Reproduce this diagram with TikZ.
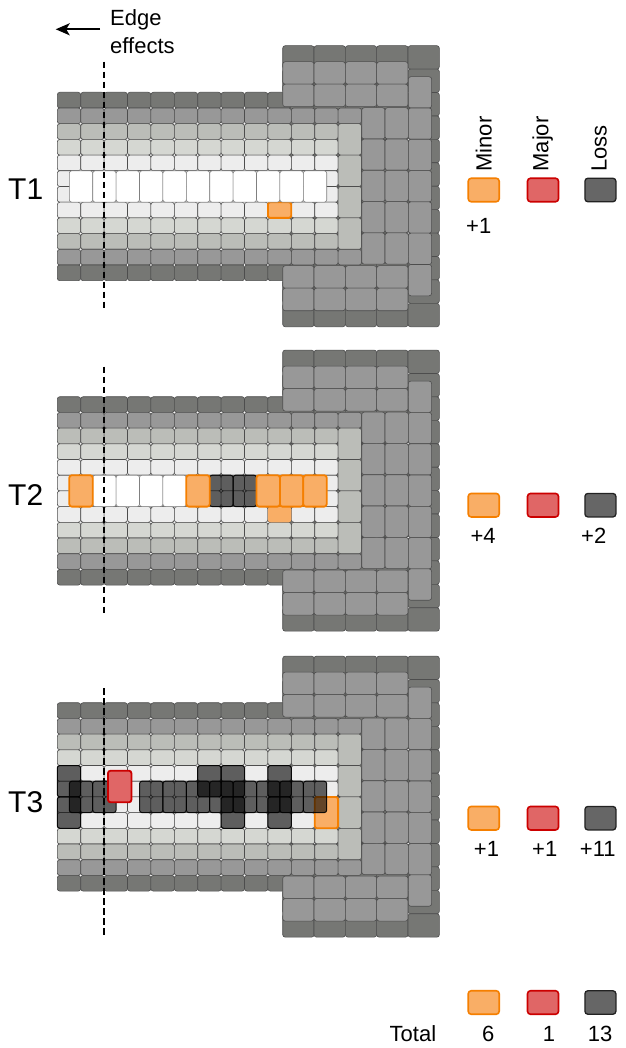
\documentclass[tikz,border=0pt]{standalone}
\usepackage{fontspec}
\setmainfont{Liberation Sans}
\usetikzlibrary{arrows.meta}

\definecolor{cdark}{HTML}{767774}
\definecolor{cmed}{HTML}{989898}
\definecolor{clone}{HTML}{BBBDB8}
\definecolor{cltwo}{HTML}{D5D7D2}
\definecolor{clthree}{HTML}{EDEDED}
\definecolor{cedge}{HTML}{4D4D4D}
\definecolor{ofill}{HTML}{F9AE66}
\definecolor{oline}{HTML}{F57F00}
\definecolor{rfill}{HTML}{E06666}
\definecolor{rline}{HTML}{CC0000}
\definecolor{lfill}{HTML}{666666}
\definecolor{lline}{HTML}{222222}

\tikzset{
 gcell/.style={draw=cedge, line width=0.6pt, rounded corners=2.5pt},
 minorc/.style={draw=oline, fill=ofill, line width=1.8pt, rounded corners=2.5pt},
 majorc/.style={draw=rline, fill=rfill, line width=1.8pt, rounded corners=2.5pt},
 lossc/.style={draw=black, fill=black, fill opacity=0.6, draw opacity=0.9, line width=1pt, rounded corners=2.5pt},
 whitec/.style={draw=black!50, fill=white, line width=0.6pt, rounded corners=2.5pt},
 lbl/.style={font=\fontsize{22}{26}\selectfont, inner sep=0pt},
 tlbl/.style={font=\fontsize{30}{36}\selectfont, inner sep=0pt, anchor=base west},
 swatch/.style={minimum width=31pt, minimum height=23.5pt, inner sep=0pt, rounded corners=3pt, line width=1.6pt},
 swminor/.style={swatch, draw=oline, fill=ofill},
 swmajor/.style={swatch, draw=rline, fill=rfill},
 swloss/.style={swatch, draw=lline, fill=lfill, line width=1.3pt},
 dashline/.style={draw=black, line width=1.8pt, dash pattern=on 6.5pt off 3.5pt},
}

\newcommand\basegrid{%
 \foreach \i in {0,...,4}{\foreach \j in {0,...,11}{
   \path[gcell,fill=cdark] ({282.7+31.33*\i},{45.7+23.42*\j}) rectangle ++(31.33,23.42);}}
 \foreach \j/\cc/\nn in {0/cdark/9,1/cmed/12,2/clone/11,3/cltwo/11,4/clthree/11,5/clthree/11,6/clthree/11,7/clthree/11,8/cltwo/11,9/clone/11,10/cmed/12,11/cdark/9}{
   \foreach \i in {0,...,\nn}{
     \path[gcell,fill=\cc] ({57.3+23.4*\i},{92.3+15.7*\j}) rectangle ++(23.4,15.7);}}
 \foreach \j in {0,...,3}{\path[gcell,fill=clone] (338.1,{123.7+31.4*\j}) rectangle ++(23.4,31.4);}
 \foreach \i in {0,...,3}{\foreach \j in {0,1}{
   \path[gcell,fill=cmed] ({282.7+31.33*\i},{61.7+22.5*\j}) rectangle ++(31.33,22.5);
   \path[gcell,fill=cmed] ({282.7+31.33*\i},{265.7+22.5*\j}) rectangle ++(31.33,22.5);}}
 \foreach \i in {0,1}{\foreach \j in {0,...,4}{
   \path[gcell,fill=cmed] ({361.7+23.33*\i},{107.7+31.3*\j}) rectangle ++(23.33,31.3);}}
 \foreach \j in {0,...,6}{\path[gcell,fill=cmed] (408.3,{76.7+31.3*\j}) rectangle ++(23.33,31.3);}
}

\begin{document}
\begin{tikzpicture}[x=1pt,y=-1pt]
\useasboundingbox (0,0) rectangle (625,1048);
\fill[white] (0,0) rectangle (625,1048);

% ---------- panel T1 ----------
\basegrid
\path[minorc] (267.9,202.2) rectangle ++(23.4,15.7);
\foreach \i in {0,...,10}{\path[whitec] ({69.3+23.4*\i},170.8) rectangle ++(23.4,31.4);}

% ---------- panel T2 ----------
\begin{scope}[shift={(0,304.4)}]
\basegrid
\path[fill=ofill, rounded corners=2.5pt] (267.9,202.2) rectangle ++(23.4,15.7);
\foreach \i in {1,2,3,4}{\path[whitec] ({69.3+23.4*\i},170.8) rectangle ++(23.4,31.4);}
\foreach \i in {6,7}{\path[lossc] ({69.3+23.4*\i},170.8) rectangle ++(23.4,31.4);}
\foreach \i in {0,5,8,9,10}{\path[minorc] ({69.3+23.4*\i},170.8) rectangle ++(23.4,31.4);}
\end{scope}

% ---------- panel T3 ----------
\begin{scope}[shift={(0,610.4)}]
\basegrid
\path[minorc] (314.7,186.5) rectangle ++(23.4,31.4);
\foreach \x/\y in {57.3/155.1,57.3/186.5,197.7/155.1,221.1/155.1,221.1/186.5,267.9/155.1,267.9/186.5}{
  \path[lossc] (\x,\y) rectangle ++(23.4,31.4);}
\foreach \i in {0,1,3,4,5,6,7,8,9,10}{\path[lossc] ({69.3+23.4*\i},170.8) rectangle ++(23.4,31.4);}
\path[majorc] (108,160.3) rectangle ++(23.4,31.6);
\end{scope}

% ---------- edge effects ----------
\draw[dashline] (104.3,61.7) -- (104.3,311.7);
\draw[dashline] (104.3,366.7) -- (104.3,616.7);
\draw[dashline] (104.3,688.3) -- (104.3,938.3);
\node[lbl, anchor=base west] (edgeA) at (110,26) {Edge};
\node[lbl, anchor=base west] (edgeB) at (110,53.3) {effects};
\coordinate (arrS) at (100,29.3);
\coordinate (arrE) at (55.7,29.3);
\draw[-{Stealth[length=14pt,width=12pt,inset=3.5pt]}, line width=2pt] (arrS) -- (arrE);

% ---------- panel labels ----------
\node[tlbl] (tA) at (8,200) {T1};
\node[tlbl] (tB) at (8,505.5) {T2};
\node[tlbl] (tC) at (8,812.5) {T3};

% ---------- legend ----------
\node[lbl, rotate=90, anchor=base west] (hMinor) at (491.7,171.7) {Minor};
\node[lbl, rotate=90, anchor=base west] (hMajor) at (548.3,171.7) {Major};
\node[lbl, rotate=90, anchor=base west] (hLoss) at (606.7,171.7) {Loss};

\foreach \r/\yy in {a/190,b/505.2,c/818.2,d/1002.5}{
  \node[swminor] (so\r) at (483.7,\yy) {};
  \node[swmajor] (sr\r) at (543,\yy) {};
  \node[swloss] (sl\r) at (600.4,\yy) {};
}

\node[lbl, anchor=base west] (nA) at (466,233.3) {+1};
\node[lbl, anchor=base west] (nB) at (470.4,543.3) {+4};
\node[lbl, anchor=base west] (nC) at (581,543.3) {+2};
\node[lbl, anchor=base west] (nD) at (473.7,856.7) {+1};
\node[lbl, anchor=base west] (nE) at (532,856.7) {+1};
\node[lbl, anchor=base west] (nF) at (579.7,856.7) {+11};
\node[lbl, anchor=base west] (nTot) at (389.5,1041.7) {Total};
\node[lbl, anchor=base west] (nG) at (481.8,1041.7) {6};
\node[lbl, anchor=base west] (nH) at (542.6,1041.7) {1};
\node[lbl, anchor=base west] (nI) at (587.6,1041.7) {13};
\end{tikzpicture}
\end{document}
